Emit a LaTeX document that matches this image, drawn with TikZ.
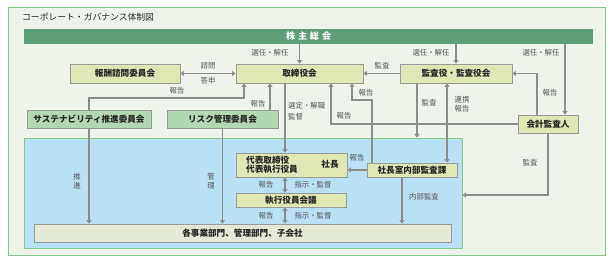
\documentclass[tikz,border=0pt]{standalone}
\usepackage{fontspec}
\setmainfont{Noto Sans CJK JP}
\usetikzlibrary{arrows.meta}
\definecolor{framebg}{HTML}{EEF3EC}
\definecolor{frameln}{HTML}{86C686}
\definecolor{barfill}{HTML}{5C9E7A}
\definecolor{ybox}{HTML}{DFE7B6}
\definecolor{mbox}{HTML}{B4D7B3}
\definecolor{bluebg}{HTML}{BAE0F3}
\definecolor{botfill}{HTML}{E3E8D7}
\definecolor{boxln}{HTML}{9A9A9A}
\definecolor{arrcol}{HTML}{8C8C8C}
\definecolor{labcol}{HTML}{555555}
\tikzset{
  boxbase/.style={draw=boxln, line width=0.9pt, inner sep=0pt, anchor=center, font=\fontsize{8.6}{10}\selectfont\bfseries, text=black!85},
  ybx/.style={boxbase, fill=ybox},
  mbx/.style={boxbase, fill=mbox},
  arr/.style={draw=arrcol, line width=1.7pt, -{Triangle[width=5pt,length=3.5pt]}},
  darr/.style={draw=arrcol, line width=1.7pt, {Triangle[width=5pt,length=3.5pt]}-{Triangle[width=5pt,length=3.5pt]}},
  lab/.style={font=\fontsize{7.4}{9}\selectfont, text=labcol, inner sep=0pt},
}
\begin{document}
\begin{tikzpicture}[x=1pt,y=-1pt]
\useasboundingbox (0,0) rectangle (613,263);
% frame
\node[draw=frameln, line width=1pt, fill=framebg, minimum width=597pt, minimum height=248pt, inner sep=0pt] (frame) at (306.5,131) {};
\node[anchor=west, font=\fontsize{8.8}{10}\selectfont, text=black!85, inner sep=0pt] (title) at (22,17) {コーポレート・ガバナンス体制図};
% blue region
\node[draw=frameln, line width=1pt, fill=bluebg, minimum width=438pt, minimum height=110pt, inner sep=0pt] (blue) at (243,193) {};
% bar
\node[fill=barfill, minimum width=569pt, minimum height=15pt, inner sep=0pt, text=white, font=\fontsize{9}{10}\selectfont\bfseries] (bar) at (308.5,36.5) {株\hspace{3pt}主\hspace{3pt}総\hspace{3pt}会};
% boxes
\node[ybx, minimum width=127pt, minimum height=19pt] (tori) at (299.5,73.5) {取締役会};
\node[ybx, minimum width=110pt, minimum height=19pt] (houshu) at (125,73.5) {報酬諮問委員会};
\node[ybx, minimum width=112pt, minimum height=19pt] (kansa) at (456,73.5) {監査役・監査役会};
\node[mbx, minimum width=124pt, minimum height=18pt] (sustain) at (89,119) {サステナビリティ推進委員会};
\node[mbx, minimum width=111pt, minimum height=18pt] (risk) at (222.5,119) {リスク管理委員会};
\node[ybx, minimum width=60pt, minimum height=18pt] (kaikei) at (548,124) {会計監査人};
\node[ybx, minimum width=111pt, minimum height=24pt] (daihyo) at (291.5,165) {};
\node[anchor=west, font=\fontsize{8.6}{9.5}\selectfont\bfseries, text=black!85, inner sep=0pt, align=left] (daihyotxt) at (246,165) {代表取締役\\代表執行役員};
\node[anchor=center, font=\fontsize{8.6}{10}\selectfont\bfseries, text=black!85, inner sep=0pt] (shacho) at (330,164) {社長};
\node[ybx, minimum width=90pt, minimum height=14pt] (naibu) at (412,170) {社長室内部監査課};
\node[ybx, minimum width=110pt, minimum height=14pt] (shikko) at (291,200) {執行役員会議};
\node[boxbase, fill=botfill, minimum width=417pt, minimum height=18pt] (bottom) at (242.5,233) {各事業部門、管理部門、子会社};
% connectors
\draw[arr] (bar.south -| tori) -- (tori.north);
\node[lab] (l1) at (270,53) {選任・解任};
\draw[arr] (bar.south -| kansa) -- (kansa.north);
\node[lab] (l2) at (431,53) {選任・解任};
\coordinate (kkx) at (565,0);
\draw[arr] (bar.south -| kkx) -- (kaikei.north -| kkx);
\node[lab] (l3) at (541,53) {選任・解任};
\draw[darr] (houshu.east) -- (tori.west);
\node[lab] (l4) at (208,66) {諮問};
\node[lab] (l5) at (208,81) {答申};
\draw[arr] (kansa.west) -- (tori.east);
\node[lab] (l6) at (382,66) {監査};
\coordinate (kr) at (537,0);
\draw[arr] (kaikei.north -| kr) |- (kansa.east);
\node[lab] (l7) at (550,93) {報告};
\coordinate (sr) at (244,98);
\draw[arr] (sustain.north) |- (sr) -- (tori.south -| sr);
\node[lab] (l8) at (177,91) {報告};
\coordinate (rr) at (270,0);
\draw[arr] (risk.north -| rr) -- (tori.south -| rr);
\node[lab] (l9) at (258,104) {報告};
\coordinate (dx) at (285,0);
\draw[arr] (tori.south -| dx) -- (daihyo.north -| dx);
\node[lab, anchor=west] (l10) at (288,106) {選定・解職};
\node[lab, anchor=west] (l11) at (288,117) {監督};
\coordinate (kt) at (331,0);
\draw[arr] (kaikei.west) -| (tori.south -| kt);
\node[lab] (l12) at (344,116) {報告};
\coordinate (na) at (372,100);
\coordinate (nb) at (352,100);
\draw[arr] (naibu.north -| na) -- (na) -- (nb) -- (tori.south -| nb);
\node[lab] (l13) at (366,93) {報告};
\coordinate (ka) at (417,0);
\draw[arr] (kansa.south -| ka) -- (blue.north -| ka);
\node[lab] (l14) at (429,103) {監査};
\coordinate (kb) at (447,0);
\draw[darr] (kansa.south -| kb) -- (naibu.north -| kb);
\node[lab, align=left] (l15) at (462,104) {連携\\報告};
\coordinate (kc) at (0,195);
\draw[arr] (kaikei.south) |- (blue.east |- kc);
\node[lab] (l16) at (530,163) {監査};
\draw[arr] (naibu.west) -- (daihyo.east |- naibu.west);
\node[lab] (l17) at (357,158) {報告};
\coordinate (nx) at (402,0);
\draw[arr] (naibu.south -| nx) -- (bottom.north -| nx);
\node[lab] (l18) at (424,197) {内部監査};
\draw[darr] (daihyo.south -| dx) -- (shikko.north -| dx);
\node[lab] (l19) at (266,185) {報告};
\node[lab] (l20) at (313,185) {指示・監督};
\draw[darr] (shikko.south -| dx) -- (bottom.north -| dx);
\node[lab] (l21) at (266,216) {報告};
\node[lab] (l22) at (313,216) {指示・監督};
\draw[arr] (sustain.south) -- (bottom.north -| sustain);
\node[lab, align=center] (l23) at (77,181) {推\\進};
\draw[arr] (risk.south) -- (bottom.north -| risk);
\node[lab, align=center] (l24) at (211,181) {管\\理};
\end{tikzpicture}
\end{document}
